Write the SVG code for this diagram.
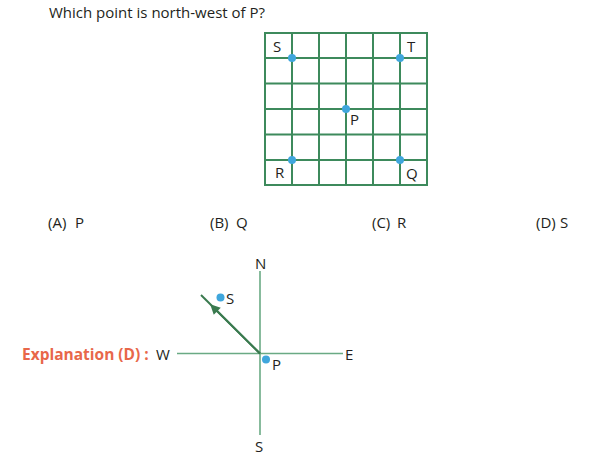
<svg xmlns="http://www.w3.org/2000/svg" width="597" height="463" viewBox="0 0 597 463">
<defs>
<style>
text{font-family:"Open Sans","Liberation Sans",sans-serif;fill:#231f20;font-size:15px}
.grid line{stroke:#3d8a5c;stroke-width:2}
.dot{fill:#3fa6dc}
.axis{stroke:#6aaa84;stroke-width:1.6}
.arrow{stroke:#3a7a4f;stroke-width:2}
.expl{fill:#e8674a;font-weight:bold;font-size:15.5px}
</style>
<marker id="ah" viewBox="0 0 10 10" refX="6" refY="5" markerWidth="12" markerHeight="10" orient="auto" markerUnits="userSpaceOnUse">
<path d="M0,0 L10,5 L0,10 z" fill="#3a7a4f"/>
</marker>
</defs>
<rect width="597" height="463" fill="#fff"/>
<text x="49" y="18" font-size="16.5">Which point is north-west of P?</text>
<g id="grid" class="grid">
<line x1="265" y1="33" x2="265" y2="185"/>
<line x1="292" y1="33" x2="292" y2="185"/>
<line x1="319" y1="33" x2="319" y2="185"/>
<line x1="346" y1="33" x2="346" y2="185"/>
<line x1="373" y1="33" x2="373" y2="185"/>
<line x1="400" y1="33" x2="400" y2="185"/>
<line x1="427" y1="33" x2="427" y2="185"/>
<line x1="264" y1="33" x2="428" y2="33"/>
<line x1="264" y1="58" x2="428" y2="58"/>
<line x1="264" y1="83.5" x2="428" y2="83.5"/>
<line x1="264" y1="109" x2="428" y2="109"/>
<line x1="264" y1="134.5" x2="428" y2="134.5"/>
<line x1="264" y1="160" x2="428" y2="160"/>
<line x1="264" y1="185" x2="428" y2="185"/>
</g>
<g id="pt-S"><circle class="dot" cx="292" cy="58" r="4"/><text x="273" y="52">S</text></g>
<g id="pt-T"><circle class="dot" cx="400" cy="58" r="4"/><text x="407" y="52">T</text></g>
<g id="pt-P"><circle class="dot" cx="346" cy="109" r="4"/><text x="350" y="125">P</text></g>
<g id="pt-R"><circle class="dot" cx="292" cy="160" r="4"/><text x="275" y="178">R</text></g>
<g id="pt-Q"><circle class="dot" cx="400" cy="160" r="4"/><text x="406" y="179">Q</text></g>
<g id="options">
<text x="48" y="228">(A)</text><text x="75" y="228">P</text>
<text x="210" y="228">(B)</text><text x="236" y="228">Q</text>
<text x="372" y="228">(C)</text><text x="397" y="228">R</text>
<text x="536" y="228">(D)</text><text x="560" y="228">S</text>
</g>
<g id="connectors">
<line class="axis" x1="260" y1="271" x2="260" y2="435"/>
<line class="axis" x1="177" y1="353.5" x2="343" y2="353.5"/>
<line class="arrow" x1="260" y1="353.5" x2="201" y2="295"/>
<line class="arrow" x1="260" y1="353.5" x2="213" y2="307" marker-end="url(#ah)"/>
</g>
<g id="compass-labels">
<text x="255" y="269">N</text>
<text x="345" y="360">E</text>
<text x="156" y="360">W</text>
<text x="255" y="452">S</text>
</g>
<g id="cs-S"><circle class="dot" cx="220.5" cy="297.5" r="4"/><text x="226" y="304">S</text></g>
<g id="cs-P"><circle class="dot" cx="266" cy="359.5" r="4"/><text x="272" y="370">P</text></g>
<text class="expl" x="22" y="360">Explanation (D) :</text>
</svg>
